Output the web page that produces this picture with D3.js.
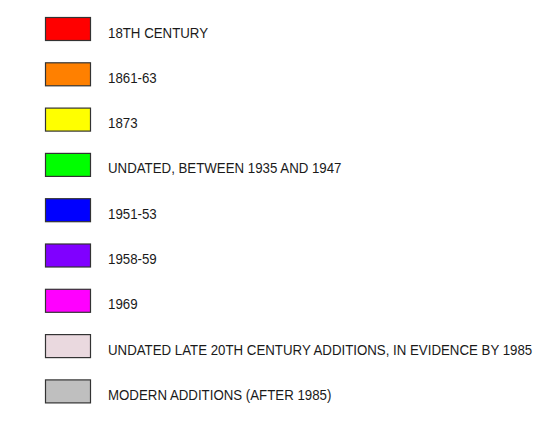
<!DOCTYPE html>
<html>
<head>
<meta charset="utf-8">
<script src="https://cdn.jsdelivr.net/npm/d3@7"></script>
<style>
  html, body { margin: 0; padding: 0; background: #fff; }
  svg { display: block; }
</style>
</head>
<body>
<svg id="chart" width="548" height="421"></svg>
<script>
const labels = [
  "18TH CENTURY",
  "1861-63",
  "1873",
  "UNDATED, BETWEEN 1935 AND 1947",
  "1951-53",
  "1958-59",
  "1969",
  "UNDATED LATE 20TH CENTURY ADDITIONS, IN EVIDENCE BY 1985",
  "MODERN ADDITIONS (AFTER 1985)"
];
const colors = [
  "#ff0000",
  "#ff8000",
  "#ffff00",
  "#00ff00",
  "#0000ff",
  "#8000ff",
  "#ff00ff",
  "#ead9df",
  "#bfbfbf"
];

const svg = d3.select("#chart");
const step = 45.3;
const y = d3.scaleBand()
  .domain(labels)
  .range([29 - step / 2, 29 - step / 2 + step * labels.length])
  .paddingInner(0)
  .paddingOuter(0);

const rows = svg.selectAll("g.row")
  .data(labels)
  .join("g")
  .attr("class", "row")
  .attr("transform", d => `translate(0,${y(d) + y.bandwidth() / 2})`);

rows.append("rect")
  .attr("x", 45.5)
  .attr("y", -11.5)
  .attr("width", 45)
  .attr("height", 23)
  .attr("fill", (d, i) => colors[i])
  .attr("stroke", "#333")
  .attr("stroke-width", 1.2);

rows.append("text")
  .attr("transform", "translate(108,8.5) scale(0.885,1)")
  .attr("font-family", "Liberation Sans, Arial, sans-serif")
  .attr("font-size", 15)
  .attr("fill", "#1a1a1a")
  .text(d => d);
</script>
</body>
</html>
